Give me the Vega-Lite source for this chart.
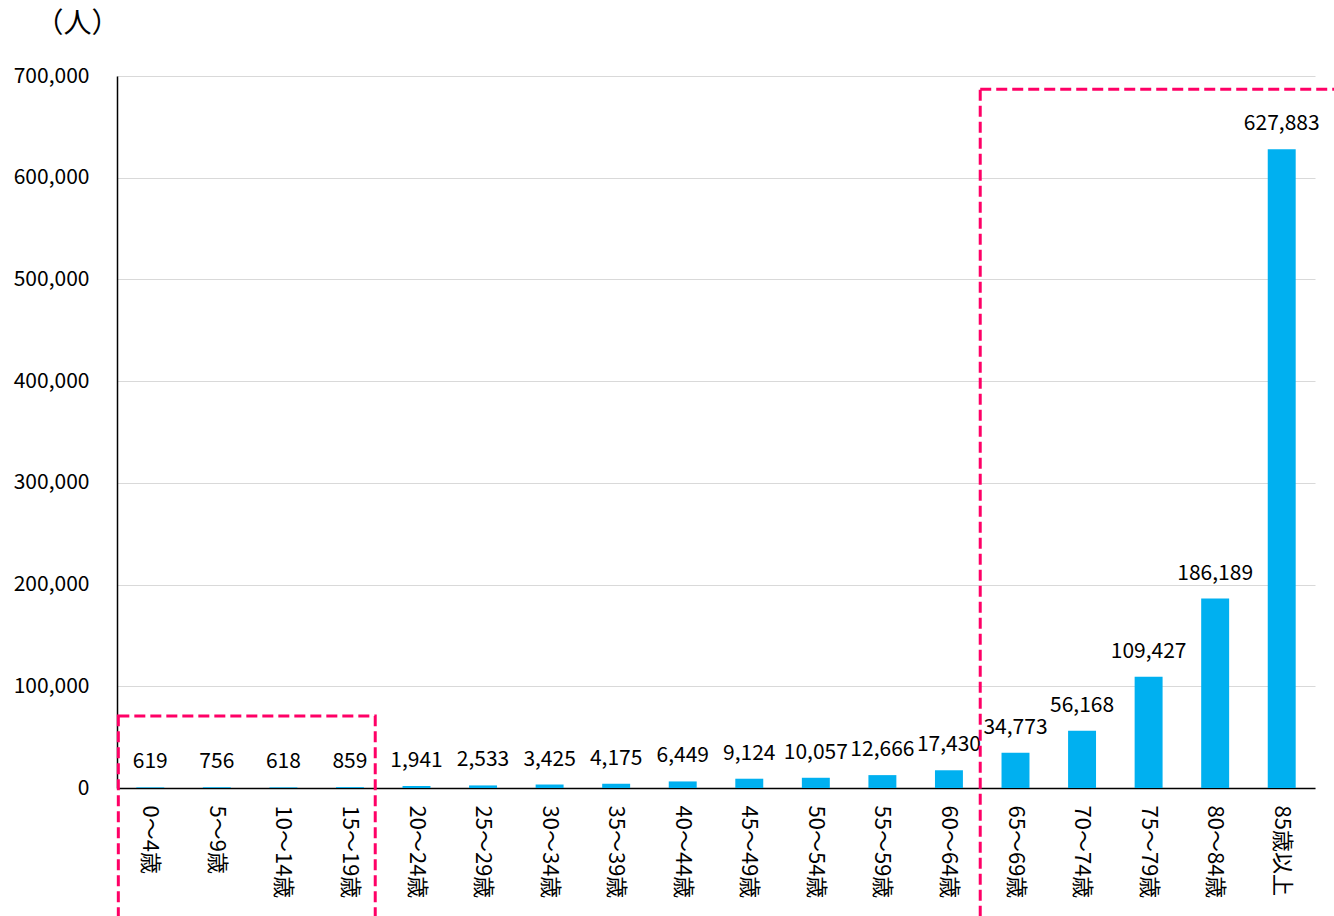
{
  "$schema": "https://vega.github.io/schema/vega-lite/v6.json",
  "width": 1198,
  "height": 712,
  "autosize": {"type": "none"},
  "padding": {"left": 117, "top": 76, "right": 19, "bottom": 128},
  "background": "white",
  "config": {"view": {"stroke": null}, "font": "Noto Sans CJK JP"},
  "datasets": {
    "ages": [
      {"age": "0〜4歳", "value": 619},
      {"age": "5〜9歳", "value": 756},
      {"age": "10〜14歳", "value": 618},
      {"age": "15〜19歳", "value": 859},
      {"age": "20〜24歳", "value": 1941},
      {"age": "25〜29歳", "value": 2533},
      {"age": "30〜34歳", "value": 3425},
      {"age": "35〜39歳", "value": 4175},
      {"age": "40〜44歳", "value": 6449},
      {"age": "45〜49歳", "value": 9124},
      {"age": "50〜54歳", "value": 10057},
      {"age": "55〜59歳", "value": 12666},
      {"age": "60〜64歳", "value": 17430},
      {"age": "65〜69歳", "value": 34773},
      {"age": "70〜74歳", "value": 56168},
      {"age": "75〜79歳", "value": 109427},
      {"age": "80〜84歳", "value": 186189},
      {"age": "85歳以上", "value": 627883}
    ],
    "boxes": [
      {"x0": 0.02, "x1": 3.88, "y0": -130000, "y1": 70700},
      {"x0": 12.97, "x1": 18.6, "y0": -130000, "y1": 687000}
    ]
  },
  "layer": [
    {
      "data": {"name": "ages"},
      "encoding": {
        "x": {
          "field": "age",
          "type": "nominal",
          "sort": null,
          "scale": {"paddingInner": 0.58, "paddingOuter": 0.29},
          "axis": {
            "title": null,
            "labelAngle": 90,
            "labelFontSize": 22,
            "labelColor": "#000000",
            "labelPadding": 17,
            "ticks": false,
            "domainColor": "#000000",
            "domainWidth": 1.5
          }
        },
        "y": {
          "field": "value",
          "type": "quantitative",
          "scale": {"domain": [0, 700000], "nice": false},
          "axis": {
            "title": "（人）",
            "titleAngle": 0,
            "titleX": -40,
            "titleY": -52,
            "titleAlign": "center",
            "titleBaseline": "middle",
            "titleFontSize": 28,
            "titleFontWeight": "normal",
            "titleColor": "#000000",
            "values": [0, 100000, 200000, 300000, 400000, 500000, 600000, 700000],
            "format": ",.0f",
            "grid": true,
            "gridColor": "#D9D9D9",
            "gridWidth": 1,
            "ticks": false,
            "domainColor": "#000000",
            "domainWidth": 1.5,
            "labelFontSize": 21,
            "labelColor": "#000000",
            "labelPadding": 28
          }
        }
      },
      "layer": [
        {"mark": {"type": "bar", "color": "#00B0F0"}},
        {
          "mark": {"type": "text", "fontSize": 21, "baseline": "middle", "dy": -25, "color": "#000000"},
          "encoding": {"text": {"field": "value", "type": "quantitative", "format": ",.0f"}}
        }
      ]
    },
    {
      "data": {"name": "boxes"},
      "mark": {"type": "rect", "fill": null, "fillOpacity": 0, "stroke": "#FF0066", "strokeWidth": 3, "strokeDash": [11, 5]},
      "encoding": {
        "x": {"field": "x0", "type": "quantitative", "scale": {"domain": [0, 18], "nice": false, "zero": false}, "axis": null},
        "x2": {"field": "x1"},
        "y": {"field": "y1", "type": "quantitative", "scale": {"domain": [0, 700000], "nice": false}, "axis": null},
        "y2": {"field": "y0"}
      }
    }
  ],
  "resolve": {"scale": {"x": "independent", "y": "independent"}}
}
